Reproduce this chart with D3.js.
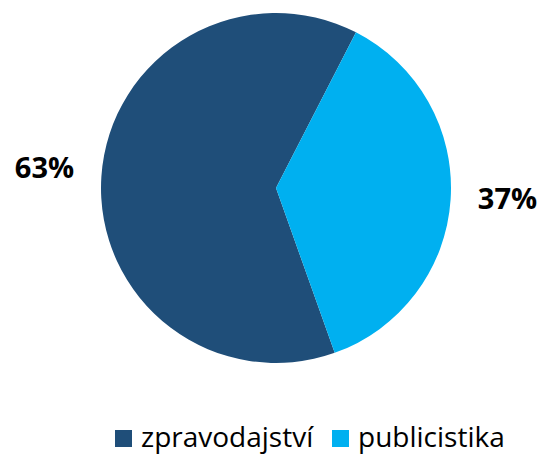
<!DOCTYPE html>
<html>
<head>
<meta charset="utf-8">
<script src="https://cdn.jsdelivr.net/npm/d3@7"></script>
<style>
  html, body { margin: 0; padding: 0; background: #fff; }
  svg { display: block; }
</style>
</head>
<body>
<svg id="chart" width="539" height="454"></svg>
<script>
const categories = ["zpravodajství", "publicistika"];
const values = [63, 37];
const labels = ["63%", "37%"];
const colors = ["#1F4E79", "#00B0F0"];

const svg = d3.select("#chart");
const cx = 276, cy = 188, r = 175;
const start = 160.4 * Math.PI / 180;

const pie = d3.pie().sort(null).value(d => d.value)
  .startAngle(start).endAngle(start + 2 * Math.PI);
const data = categories.map((c, i) => ({ cat: c, value: values[i], label: labels[i], color: colors[i] }));
const arcs = pie(data);

const arc = d3.arc().innerRadius(0).outerRadius(r);
const labelArc = d3.arc().innerRadius(232).outerRadius(232);

const g = svg.append("g").attr("transform", `translate(${cx},${cy})`);
g.selectAll("path").data(arcs).join("path")
  .attr("d", arc)
  .attr("fill", d => d.data.color);

g.selectAll("text").data(arcs).join("text")
  .attr("transform", d => `translate(${labelArc.centroid(d)})`)
  .attr("text-anchor", "middle")
  .attr("dy", "0.2em")
  .attr("font-family", "'Open Sans', sans-serif")
  .attr("font-weight", "bold")
  .attr("font-size", 29)
  .attr("fill", "#000")
  .text(d => d.data.label);

// legend
const legend = svg.append("g");
const legendX = [115, 332];
const item = legend.selectAll("g").data(data).join("g")
  .attr("transform", (d, i) => `translate(${legendX[i]},430)`);
item.append("rect").attr("width", 17).attr("height", 17).attr("fill", d => d.color);
item.append("text")
  .attr("x", 26).attr("y", 17)
  .attr("font-family", "'Open Sans', sans-serif")
  .attr("font-size", 28)
  .attr("fill", "#000")
  .text(d => d.cat);
</script>
</body>
</html>
